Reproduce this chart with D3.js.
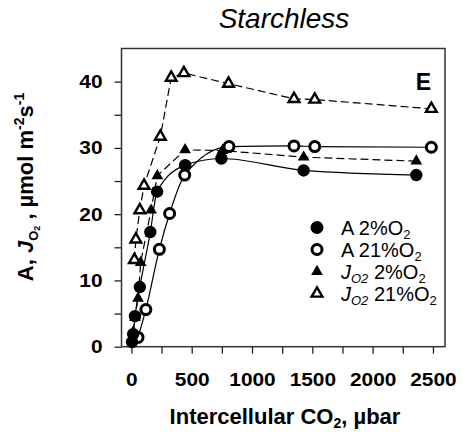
<!DOCTYPE html>
<html>
<head>
<meta charset="utf-8">
<script src="https://cdn.jsdelivr.net/npm/d3@7"></script>
<style>
body { margin: 0; background: #fff; }
svg { font-family: Arial, "Liberation Sans", sans-serif; }
</style>
</head>
<body>
<div id="chart"></div>
<script>
// A at 2% O2 (filled circles)
var ciA2 = [5, 15, 30, 70, 157, 213, 446, 746, 1428, 2362];
var valA2 = [0.7, 1.9, 4.6, 9.0, 17.3, 23.4, 27.4, 28.4, 26.6, 25.9];
// A at 21% O2 (open circles)
var ciA21 = [55, 120, 232, 317, 442, 809, 1348, 1520, 2487];
var valA21 = [1.4, 5.6, 14.7, 20.1, 25.9, 30.2, 30.3, 30.2, 30.1];
// J_O2 at 2% O2 (filled triangles)
var ciJ2 = [15, 30, 55, 77, 163, 215, 445, 755, 1428, 2362];
var valJ2 = [2.2, 4.4, 7.3, 12.7, 20.6, 25.8, 29.7, 29.6, 28.6, 28.0];
// J_O2 at 21% O2 (open triangles)
var ciJ21 = [25, 37, 70, 105, 240, 330, 435, 805, 1348, 1520, 2487];
var valJ21 = [13.1, 16.2, 20.6, 24.3, 31.7, 40.6, 41.3, 39.7, 37.4, 37.3, 35.9];

var xTicks = d3.range(0, 2501, 250);
var yTicks = d3.range(0, 41, 5);

var width = 463, height = 432;
var margin = {top: 48.5, right: 18, bottom: 85.3, left: 121.5};

var svg = d3.select("#chart").append("svg")
    .attr("width", width)
    .attr("height", height);

var x = d3.scaleLinear().domain([-82, 2600]).range([margin.left, width - margin.right]);
var y = d3.scaleLinear().domain([0, 45]).range([height - margin.bottom, margin.top]);

function zip(xs, ys) {
    return xs.map(function(d, i) { return [d, ys[i]]; });
}

//axes
var yAxis = svg.append("g")
    .attr("transform", "translate(" + margin.left + ",0)")
    .call(d3.axisLeft(y).tickValues(yTicks).tickSize(7).tickPadding(12)
        .tickFormat(function(d) { return d % 10 === 0 ? d : ""; }));
var xAxis = svg.append("g")
    .attr("transform", "translate(0," + (height - margin.bottom) + ")")
    .call(d3.axisBottom(x).tickValues(xTicks).tickSize(7).tickPadding(19)
        .tickFormat(function(d) { return d % 500 === 0 ? d : ""; }));

[xAxis, yAxis].forEach(function(ax) {
    ax.select(".domain").remove();
    ax.selectAll("line").attr("stroke", "#222").attr("stroke-width", 1.3);
    ax.selectAll("text")
        .attr("fill", "#000")
        .style("font-size", "19px")
        .style("font-weight", "bold")
        .each(function() {
            var t = d3.select(this).text();
            if (t) d3.select(this).attr("textLength", t.length * 11.6).attr("lengthAdjust", "spacingAndGlyphs");
        });
});

// frame
svg.append("rect")
    .attr("x", margin.left)
    .attr("y", margin.top)
    .attr("width", width - margin.right - margin.left)
    .attr("height", height - margin.bottom - margin.top)
    .attr("fill", "none")
    .attr("stroke", "#333")
    .attr("stroke-width", 1.5);

// lines
var smooth = d3.line().x(function(d) { return x(d[0]); }).y(function(d) { return y(d[1]); })
    .curve(d3.curveMonotoneX);
var straight = d3.line().x(function(d) { return x(d[0]); }).y(function(d) { return y(d[1]); });

svg.append("path").datum(zip(ciA2, valA2)).attr("d", smooth)
    .attr("fill", "none").attr("stroke", "#000").attr("stroke-width", 1.2);
svg.append("path").datum(zip(ciA21, valA21)).attr("d", smooth)
    .attr("fill", "none").attr("stroke", "#000").attr("stroke-width", 1.2);
svg.append("path").datum(zip(ciJ2, valJ2)).attr("d", straight)
    .attr("fill", "none").attr("stroke", "#000").attr("stroke-width", 1.2)
    .attr("stroke-dasharray", "8,4");
svg.append("path").datum(zip(ciJ21, valJ21)).attr("d", straight)
    .attr("fill", "none").attr("stroke", "#000").attr("stroke-width", 1.2)
    .attr("stroke-dasharray", "8,4");

// markers
var tri = d3.symbol().type(d3.symbolTriangle);

function drawCircles(data, open) {
    svg.append("g").selectAll("circle").data(data).enter().append("circle")
        .attr("cx", function(d) { return x(d[0]); })
        .attr("cy", function(d) { return y(d[1]); })
        .attr("r", open ? 5 : 6.2)
        .attr("fill", open ? "#fff" : "#000")
        .attr("stroke", "#000")
        .attr("stroke-width", open ? 3 : 0);
}
function drawTriangles(data, open) {
    svg.append("g").selectAll("path").data(data).enter().append("path")
        .attr("d", tri.size(open ? 50 : 60)())
        .attr("transform", function(d) { return "translate(" + x(d[0]) + "," + y(d[1]) + ")"; })
        .attr("fill", open ? "#fff" : "#000")
        .attr("stroke", "#000")
        .attr("stroke-width", open ? 2.4 : 0);
}

drawTriangles(zip(ciJ21, valJ21), true);
drawTriangles(zip(ciJ2, valJ2), false);
drawCircles(zip(ciA21, valA21), true);
drawCircles(zip(ciA2, valA2), false);

// title and panel letter
svg.append("text")
    .attr("x", 284).attr("y", 28)
    .attr("text-anchor", "middle")
    .style("font-size", "28px").style("font-style", "italic")
    .text("Starchless");
svg.append("text")
    .attr("x", 431).attr("y", 90)
    .attr("text-anchor", "end")
    .style("font-size", "23px").style("font-weight", "bold")
    .text("E");

// x title
var xt = svg.append("text")
    .attr("x", 285).attr("y", 424)
    .attr("text-anchor", "middle")
    .style("font-size", "22px").style("font-weight", "bold");
xt.append("tspan").text("Intercellular CO");
xt.append("tspan").attr("dy", 4).style("font-size", "14px").text("2");
xt.append("tspan").attr("dy", -4).text(", µbar");

// y title
var yt = svg.append("text")
    .attr("transform", "translate(33,187) rotate(-90)")
    .attr("text-anchor", "middle")
    .style("font-size", "22px").style("font-weight", "bold");
yt.append("tspan").text("A, ");
yt.append("tspan").style("font-style", "italic").text("J");
yt.append("tspan").attr("dy", 5).style("font-size", "13px").text("O");
yt.append("tspan").attr("dy", 2).style("font-size", "9px").text("2");
yt.append("tspan").attr("dy", -7).text(" , µmol m");
yt.append("tspan").attr("dy", -9).style("font-size", "14px").text("-2");
yt.append("tspan").attr("dy", 9).text("s");
yt.append("tspan").attr("dy", -9).style("font-size", "14px").text("-1");

// legend
var legendLabels = [
    {kind: "circle", open: false, label: "A 2%O", j: false},
    {kind: "circle", open: true, label: "A 21%O", j: false},
    {kind: "tri", open: false, label: " 2%O", j: true},
    {kind: "tri", open: true, label: " 21%O", j: true}
];
var legend = svg.append("g");
legendLabels.forEach(function(d, i) {
    var cy = 227.5 + i * 22;
    if (d.kind === "circle") {
        legend.append("circle").attr("cx", 317).attr("cy", cy)
            .attr("r", d.open ? 5 : 6.5)
            .attr("fill", d.open ? "#fff" : "#000")
            .attr("stroke", "#000").attr("stroke-width", d.open ? 3 : 0);
    } else {
        legend.append("path").attr("d", tri.size(d.open ? 50 : 60)())
            .attr("transform", "translate(317," + cy + ")")
            .attr("fill", d.open ? "#fff" : "#000")
            .attr("stroke", "#000").attr("stroke-width", d.open ? 2.4 : 0);
    }
    var t = legend.append("text").attr("x", 341).attr("y", cy + 7)
        .style("font-size", "20px");
    if (d.j) {
        t.append("tspan").style("font-style", "italic").text("J");
        t.append("tspan").attr("dy", 4).style("font-style", "italic").style("font-size", "13px").text("O2");
        t.append("tspan").attr("dy", -4).text(d.label);
    } else {
        t.append("tspan").text(d.label);
    }
    t.append("tspan").attr("dy", 4).style("font-size", "13px").text("2");
});
</script>
</body>
</html>
